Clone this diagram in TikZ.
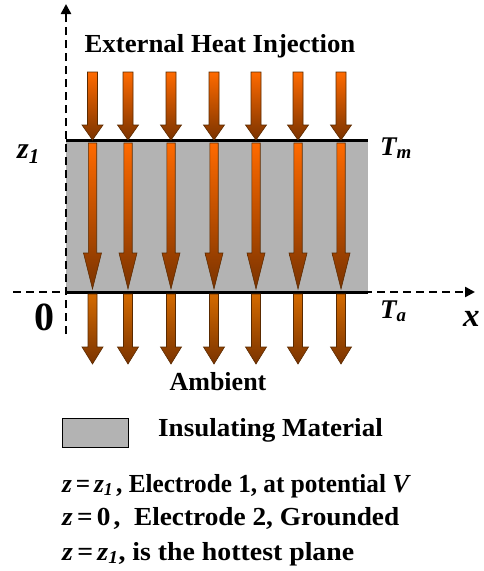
\documentclass[tikz,border=0pt]{standalone}
\usepackage{fontspec}
\setmainfont{Liberation Serif}
\usetikzlibrary{arrows.meta}
\definecolor{insul}{HTML}{B3B3B3}
\definecolor{heatA}{HTML}{FF6A00}
\definecolor{heatB}{HTML}{7A3300}
\definecolor{heatC}{HTML}{D46A00}
\definecolor{heatEdge}{HTML}{5A2A00}
\tikzset{
  axis/.style={line width=2.4pt, dash pattern=on 8pt off 5pt},
  plate/.style={line width=3pt, black},
  lbl/.style={inner sep=0pt, text=black},
  txt/.style={lbl, font=\bfseries\fontsize{26}{30}\selectfont},
  heat/.style={draw=heatEdge, line width=0.6pt, top color=heatA, bottom color=heatB},
  heatlow/.style={draw=heatEdge, line width=0.6pt, top color=heatC, bottom color=heatB},
}
% x, y0, yh, y1, half shaft, half head, style
\newcommand\heatarrow[7]{%
  \path[#7] (#1-#5,#2) -- (#1+#5,#2) -- (#1+#5,#3) -- (#1+#6,#3) -- (#1,#4)
     -- (#1-#6,#3) -- (#1-#5,#3) -- cycle;}
\newcommand\eqz{{\itshape z}\kern4pt=\kern4pt}
\begin{document}
\begin{tikzpicture}[x=1pt,y=-1pt]
\useasboundingbox (0,0) rectangle (483,571);
% insulating slab
\fill[insul] (66,140) rectangle (368,292);
% axes
\coordinate (ztop) at (66,4);
\coordinate (zbot) at (66,334);
\coordinate (xl) at (13,292);
\coordinate (xr) at (475,292);
\draw[axis,-{Triangle[length=10pt,width=10pt]}] (zbot) -- (ztop);
\draw[axis,-{Triangle[length=10pt,width=10pt]}] (xl) -- (xr);
% electrodes
\coordinate (e1l) at (66,140);
\coordinate (e1r) at (368,140);
\coordinate (e2l) at (66,292);
\coordinate (e2r) at (368,292);
\draw[plate] (e1l) -- (e1r);
\draw[plate] (e2l) -- (e2r);
% heat arrows
\foreach \xx in {92.5,128,171,214,256,298,341}{
  \heatarrow{\xx}{72}{125}{140}{5}{10.5}{heat}
  \heatarrow{\xx}{143}{253}{289}{4.2}{9}{heat}
  \heatarrow{\xx}{294}{347}{364}{4.5}{10.5}{heatlow}
}
% labels
\node[txt, anchor=base] (ext) at (220,52) {\scalebox{1.03}[1]{External Heat Injection}};
\node[lbl, font=\bfseries\itshape\fontsize{30}{32}\selectfont, anchor=base west] (z1) at (17,158) {z\textsubscript{1}};
\node[lbl, font=\bfseries\itshape\fontsize{27}{30}\selectfont, anchor=base west] (tm) at (380,155) {T\textsubscript{m}};
\node[lbl, font=\bfseries\fontsize{40}{42}\selectfont, anchor=base west] (zero) at (34,330.5) {0};
\node[lbl, font=\bfseries\itshape\fontsize{27}{30}\selectfont, anchor=base west] (ta) at (380,318) {T\textsubscript{a}};
\node[lbl, font=\bfseries\itshape\fontsize{33}{36}\selectfont, anchor=base west] (xlab) at (463,326) {x};
\node[txt, anchor=base] (amb) at (218,390) {Ambient};
% legend
\node[draw=black, line width=1pt, fill=insul, minimum width=66pt, minimum height=29pt, inner sep=0pt] (leg) at (95.5,432.5) {};
\node[txt, anchor=base west] (legt) at (158,436) {\scalebox{1.04}[1]{Insulating Material}};
\node[txt, anchor=base west] (l1) at (62,492) {\scalebox{0.97}[1]{\eqz{\itshape z\textsubscript{1}}\kern3pt, Electrode 1, at potential \textit{V}}};
\node[txt, anchor=base west] (l2) at (62,525) {\scalebox{1.05}[1]{\eqz 0\kern3pt,\ \ Electrode 2, Grounded}};
\node[txt, anchor=base west] (l3) at (62,560) {\scalebox{1.07}[1]{\eqz{\itshape z\textsubscript{1}}, is the hottest plane}};
\end{tikzpicture}
\end{document}
